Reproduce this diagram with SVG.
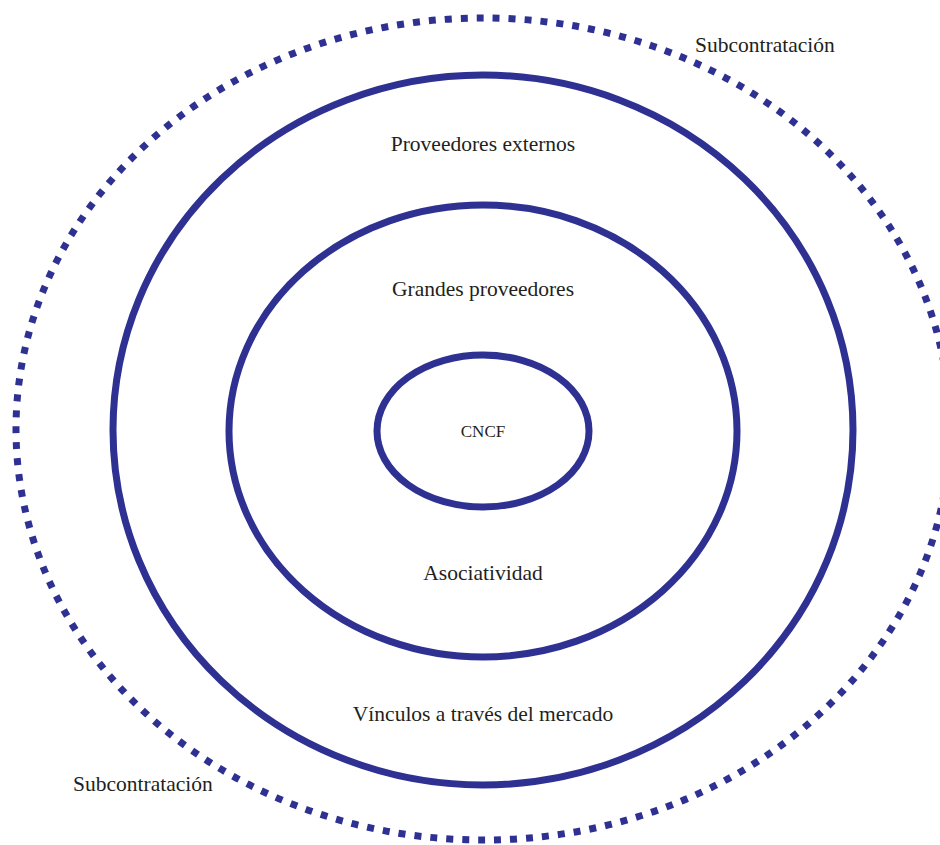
<svg xmlns="http://www.w3.org/2000/svg" width="940" height="845" viewBox="0 0 940 845">
<style>
.ring{fill:none;stroke:#2e3192;stroke-width:7}
.dash{fill:none;stroke:#2e3192;stroke-width:7;stroke-dasharray:7 9}
.lbl{font-family:"Liberation Serif",serif;font-size:21.5px;fill:#231f20}
.sm{font-family:"Liberation Serif",serif;font-size:17px;fill:#231f20}
</style>
<rect width="940" height="845" fill="#ffffff"/>
<g id="subcontratacion">
<ellipse class="dash" cx="483" cy="429" rx="467" ry="411"/>
<text class="lbl" x="695" y="52">Subcontratación</text>
<text class="lbl" x="73" y="791">Subcontratación</text>
</g>
<g id="proveedores-externos">
<ellipse class="ring" cx="483" cy="430" rx="370" ry="355"/>
<text class="lbl" x="483" y="151" text-anchor="middle">Proveedores externos</text>
<text class="lbl" x="483" y="721" text-anchor="middle">Vínculos a través del mercado</text>
</g>
<g id="grandes-proveedores">
<ellipse class="ring" cx="483" cy="431" rx="254" ry="226"/>
<text class="lbl" x="483" y="296" text-anchor="middle">Grandes proveedores</text>
<text class="lbl" x="483" y="580" text-anchor="middle">Asociatividad</text>
</g>
<g id="cncf">
<ellipse class="ring" cx="483" cy="431" rx="106" ry="76"/>
<text class="sm" x="483" y="437" text-anchor="middle">CNCF</text>
</g>
<g id="connectors"></g>
</svg>
